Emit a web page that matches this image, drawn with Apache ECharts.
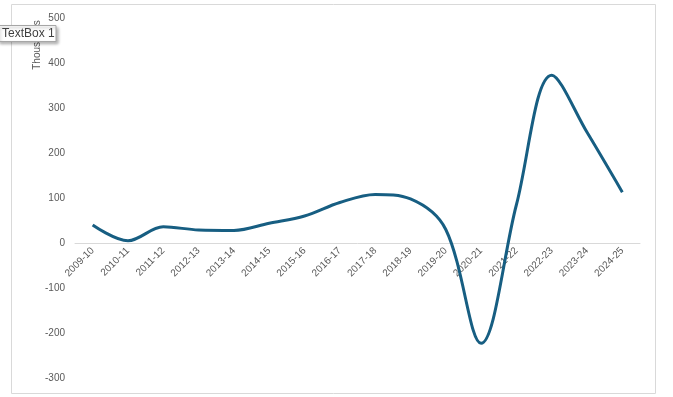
<!DOCTYPE html>
<html><head><meta charset="utf-8">
<script src="https://cdn.jsdelivr.net/npm/echarts@6/dist/echarts.min.js"></script>
<style>html,body{margin:0;padding:0;background:#fff}#c{width:673px;height:397px}</style>
</head><body><div id="c"></div>
<script>
const categories = ['2009-10','2010-11','2011-12','2012-13','2013-14','2014-15','2015-16','2016-17','2017-18','2018-19','2019-20','2020-21','2021-22','2022-23','2023-24','2024-25'];
const values = [40, 5, 36, 29, 28, 44, 60, 90, 108, 98, 30, -223, 85, 373, 246, 113];
const yTicks = {min: -300, max: 500, interval: 100};
const axisTitle = 'Thousands';
const boxText = 'TextBox 1';

const chart = echarts.init(document.getElementById('c'), null, {renderer: 'canvas'});
const font = '"Liberation Sans", Arial, sans-serif';
const gridTop = 18, gridBottom = 19, H = 397;
const plotH = H - gridTop - gridBottom;
const zeroOffset = -plotH * (0 - yTicks.min) / (yTicks.max - yTicks.min);
chart.setOption({
  animation: false,
  grid: {left: 75, right: 33, top: gridTop, bottom: gridBottom, containLabel: false, outerBoundsMode: 'none'},
  xAxis: {
    type: 'category', data: categories, boundaryGap: true, position: 'bottom', offset: zeroOffset,
    axisLine: {onZero: false, lineStyle: {color: '#d9d9d9', width: 1}},
    axisTick: {show: false},
    axisLabel: {rotate: 45, color: '#595959', fontSize: 10, fontFamily: font, interval: 0, margin: 6}
  },
  yAxis: {
    type: 'value', min: yTicks.min, max: yTicks.max, interval: yTicks.interval,
    splitLine: {show: false}, axisLine: {show: false}, axisTick: {show: false},
    axisLabel: {color: '#595959', fontSize: 10, fontFamily: font, margin: 10}
  },
  series: [{
    type: 'line', data: values, smooth: 0.35, symbol: 'none',
    lineStyle: {color: '#175E82', width: 3}
  }],
  graphic: [
    {type: 'rect', shape: {x: 11.5, y: 4.5, width: 644, height: 389}, style: {fill: 'none', stroke: '#d9d9d9', lineWidth: 1}, z: -1},
    {type: 'text', x: 37, y: 45, rotation: Math.PI / 2, style: {text: axisTitle, fill: '#595959', fontSize: 10, fontFamily: font, align: 'center', verticalAlign: 'middle'}},
    {type: 'rect', shape: {x: -2, y: 25.5, width: 58, height: 16}, style: {fill: '#fff', stroke: '#a6a6a6', lineWidth: 1, shadowBlur: 3, shadowOffsetX: 2, shadowOffsetY: 2, shadowColor: 'rgba(0,0,0,0.3)'}, z: 100},
    {type: 'text', x: 2, y: 33.5, style: {text: boxText, fill: '#404040', fontSize: 12, fontFamily: font, verticalAlign: 'middle'}, z: 101}
  ]
});
</script></body></html>
